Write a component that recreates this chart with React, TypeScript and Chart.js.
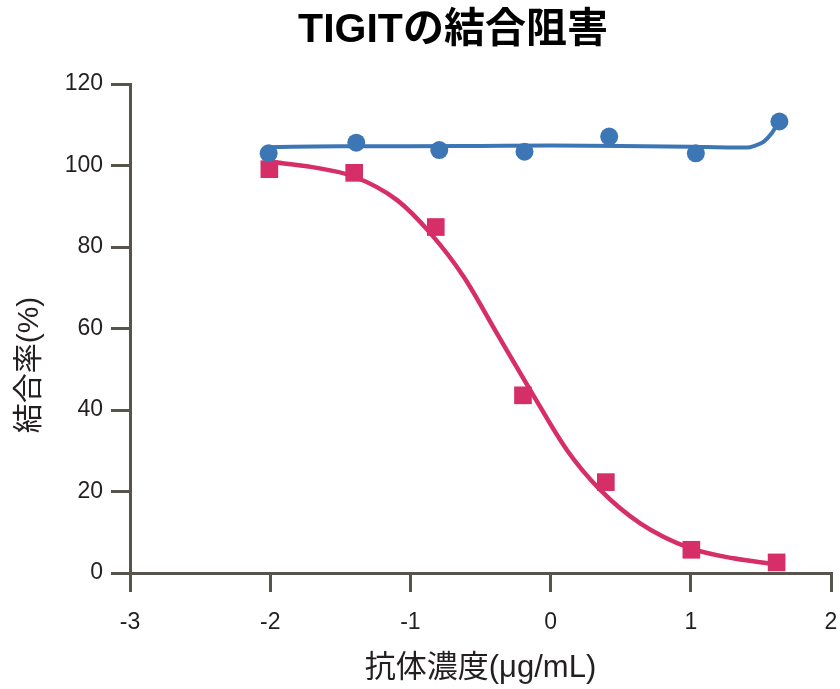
import React, { useEffect, useRef } from "react";
import { Chart, registerables } from "chart.js";

Chart.register(...registerables);

const TITLE = "TIGITの結合阻害";
const X_TITLE = "抗体濃度(μg/mL)";
const Y_TITLE = "結合率(%)";

const X_MIN = -3;
const X_MAX = 2;
const Y_MIN = 0;
const Y_MAX = 120;
const Y_STEP = 20;
const X_STEP = 1;

// measured points
const blueX = [-2.011, -1.386, -0.794, -0.186, 0.418, 1.036, 1.632];
const blueY = [103.0, 105.6, 103.8, 103.4, 107.1, 103.0, 110.8];
const pinkX = [-2.006, -1.401, -0.819, -0.197, 0.394, 1.004, 1.612];
const pinkY = [99.1, 98.2, 84.9, 43.6, 22.3, 5.7, 2.6];

// fitted curves
const blueFitX = [-2.01, -1.5, -1.0, -0.5, 0.0, 0.5, 1.0, 1.3, 1.4, 1.46, 1.518, 1.577, 1.613, 1.632];
const blueFitY = [104.5, 104.7, 104.7, 104.8, 104.9, 104.8, 104.6, 104.4, 104.4, 104.9, 105.8, 107.9, 109.9, 110.8];
const pinkFitX = [-2.0, -1.7, -1.405, -1.095, -0.858, -0.62, -0.383, -0.145, 0.116, 0.354, 0.639, 0.995, 1.304, 1.589];
const pinkFitY = [100.9, 99.6, 97.3, 91.5, 83.4, 72.7, 58.8, 44.9, 30.2, 20.4, 12.2, 6.1, 3.6, 2.2];

const BLUE = "#3d76b4";
const PINK = "#d62f68";
const AXIS = "#57544d";
const TEXT = "#231f20";
const FONT = '"Liberation Sans", "Noto Sans CJK JP", sans-serif';

const pts = (xs: number[], ys: number[]) => xs.map((x, i) => ({ x, y: ys[i] }));

const textPlugin = {
  id: "texts",
  afterDraw(chart: any) {
    const ctx = chart.ctx;
    const ca = chart.chartArea;
    ctx.save();
    ctx.fillStyle = "#000";
    ctx.textAlign = "center";
    ctx.textBaseline = "middle";
    ctx.font = `bold 41px ${FONT}`;
    ctx.fillText(TITLE, 453, 31);

    ctx.fillStyle = TEXT;
    ctx.font = `31px ${FONT}`;
    ctx.fillText(X_TITLE, (ca.left + ca.right) / 2, 668);

    ctx.font = `30px ${FONT}`;
    ctx.translate(30, 365);
    ctx.rotate(-Math.PI / 2);
    ctx.fillText(Y_TITLE, 0, 0);
    ctx.restore();
  },
};

export default function App() {
  const ref = useRef<HTMLCanvasElement | null>(null);
  useEffect(() => {
    if (!ref.current) return;
    const chart = new Chart(ref.current, {
      type: "scatter",
      data: {
        datasets: [
          {
            label: "blue-pts",
            data: pts(blueX, blueY),
            pointStyle: "circle",
            pointRadius: 9,
            pointBackgroundColor: BLUE,
            pointBorderWidth: 0,
            borderColor: BLUE,
            backgroundColor: BLUE,
            showLine: false,
            order: 0,
          },
          {
            label: "blue-fit",
            data: pts(blueFitX, blueFitY),
            showLine: true,
            pointRadius: 0,
            borderColor: BLUE,
            borderWidth: 4,
            cubicInterpolationMode: "monotone",
            order: 1,
          },
          {
            label: "pink-fit",
            data: pts(pinkFitX, pinkFitY),
            showLine: true,
            pointRadius: 0,
            borderColor: PINK,
            borderWidth: 4.5,
            cubicInterpolationMode: "monotone",
            order: 2,
          },
          {
            label: "pink-pts",
            data: pts(pinkX, pinkY),
            pointStyle: "rect",
            pointRadius: 12.5,
            pointBackgroundColor: PINK,
            pointBorderWidth: 0,
            borderColor: PINK,
            backgroundColor: PINK,
            showLine: false,
            order: 3,
          },
        ],
      },
      options: {
        animation: false,
        responsive: false,
        devicePixelRatio: 1,
        layout: { autoPadding: false, padding: { left: 0, right: 9, top: 84, bottom: 0 } },
        plugins: {
          legend: { display: false },
          title: { display: false },
          tooltip: { enabled: false },
        },
        scales: {
          x: {
            type: "linear",
            min: X_MIN,
            max: X_MAX,
            ticks: {
              stepSize: X_STEP,
              color: TEXT,
              font: { family: FONT, size: 23 },
              padding: 17,
            },
            grid: {
              drawOnChartArea: false,
              drawTicks: true,
              tickLength: 19,
              tickWidth: 3,
              tickColor: AXIS,
              color: AXIS,
              lineWidth: 3,
            },
            border: { display: true, color: AXIS, width: 3 },
            afterFit: (s: any) => {
              s.height = 116;
              s.paddingLeft = 0;
              s.paddingRight = 0;
            },
          },
          y: {
            type: "linear",
            min: Y_MIN,
            max: Y_MAX,
            ticks: {
              stepSize: Y_STEP,
              color: TEXT,
              font: { family: FONT, size: 23 },
              padding: 8,
            },
            grid: {
              drawOnChartArea: false,
              drawTicks: true,
              tickLength: 19,
              tickWidth: 3,
              tickColor: AXIS,
              color: AXIS,
              lineWidth: 3,
            },
            border: { display: true, color: AXIS, width: 3 },
            afterFit: (s: any) => {
              s.width = 130;
              s.paddingTop = 0;
              s.paddingBottom = 0;
            },
          },
        },
      },
      plugins: [textPlugin],
    } as any);
    return () => chart.destroy();
  }, []);

  return (
    <div style={{ position: "fixed", left: 0, top: 0, width: 840, height: 689, background: "#fff" }}>
      <canvas ref={ref} width={840} height={689} style={{ display: "block", width: 840, height: 689 }} />
    </div>
  );
}
